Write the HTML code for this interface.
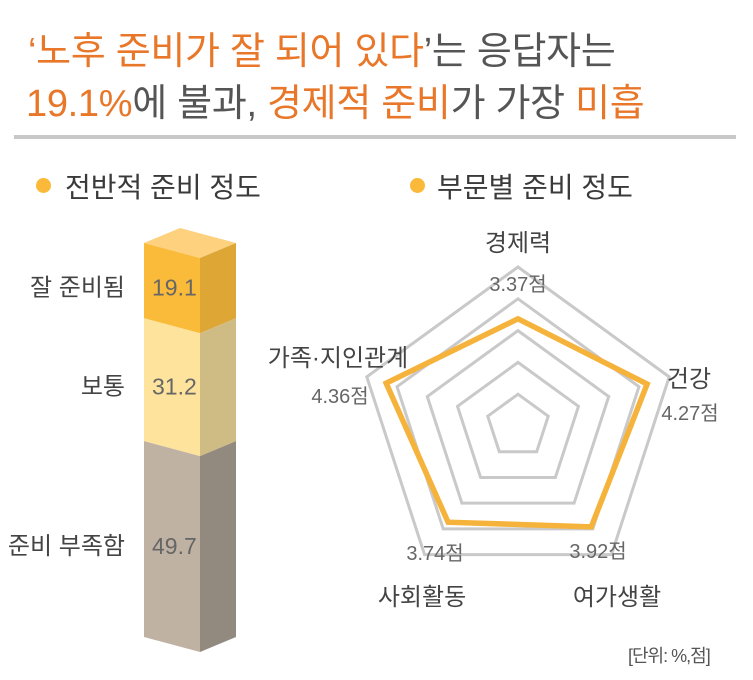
<!DOCTYPE html>
<html><head><meta charset="utf-8"><style>
body{margin:0;width:753px;height:680px;background:#fff;overflow:hidden;font-family:"Liberation Sans","Noto Sans CJK KR",sans-serif;color:#555}
.t{position:absolute;white-space:nowrap}
.o{color:#e8772a}
</style></head><body>
<div class="t" style="left:28px;top:20px;font-size:38px;letter-spacing:-0.3px"><span class="o">‘노후 준비가 잘 되어 있다</span>’는 응답자는</div>
<div class="t" style="left:26px;top:72px;font-size:38px;letter-spacing:-0.3px"><span class="o">19.1%</span>에 불과, <span class="o">경제적 준비</span>가 가장 <span class="o">미흡</span></div>
<div style="position:absolute;left:14px;top:135px;width:722px;height:4px;background:#c8c8c8"></div>
<div class="t" style="left:36px;top:166px;font-size:28px;color:#3a3a3a"><span style="display:inline-block;width:15px;height:15px;border-radius:50%;background:#fbb93a;margin-right:14px;vertical-align:4px"></span>전반적 준비 정도</div>
<div class="t" style="left:410px;top:166px;font-size:28px;color:#3a3a3a"><span style="display:inline-block;width:15px;height:15px;border-radius:50%;background:#fbb93a;margin-right:12px;vertical-align:4px"></span>부문별 준비 정도</div>
<svg id="c" width="753" height="680" style="position:absolute;left:0;top:0"></svg>
<div class="t" style="left:628px;top:642px;font-size:18px;color:#555;letter-spacing:-1px">[단위: %,점]</div>
<script>
const barCats=["잘 준비됨","보통","준비 부족함"];
const barVals=[19.1,31.2,49.7];
const radarCats=["경제력","건강","여가생활","사회활동","가족·지인관계"];
const radarVals=[3.37,4.27,3.92,3.74,4.36];
const radarLabels=["3.37점","4.27점","3.92점","3.74점","4.36점"];
const radarMax=5;
const NS="http://www.w3.org/2000/svg",svg=document.getElementById('c');
function mk(t,a,txt){const e=document.createElementNS(NS,t);for(const k in a)e.setAttribute(k,a[k]);if(txt!=null)e.textContent=txt;svg.appendChild(e);return e;}
// isometric bar
const fronts=["#fbbb3a","#fde39c","#bfb2a3"],sides=["#dea635","#cfbb84","#938a7f"];
const xl=144,xm=200,xr=236,y0=243,dyF=15,pxPer=3.94;
const barTop=mk('polygon',{points:`${xl},${y0} ${xm},${y0+dyF} ${xr},${y0} ${180},${228}`,fill:"#fdd17e"});


let y=y0;
barVals.forEach((v,i)=>{
  const h=v*pxPer;
  const f=mk('polygon',{points:`${xl},${y} ${xm},${y+dyF} ${xm},${y+dyF+h} ${xl},${y+h}`,fill:fronts[i]});
  
  
  const s=mk('polygon',{points:`${xm},${y+dyF} ${xr},${y} ${xr},${y+h} ${xm},${y+dyF+h}`,fill:sides[i]});
  
  const cy=y+h/2+7;
  const vt=mk('text',{x:152,y:cy+8,'font-size':23,fill:"#666"},v.toFixed(1));
  
  const ct=mk('text',{x:125,y:cy+8,'font-size':24,fill:"#444",'text-anchor':'end'},barCats[i]);
  
  y+=h;
});
// radar
const cx=518,cy=426,R=159;
const ang=i=>-Math.PI/2+i*2*Math.PI/5;
const pt=(i,r)=>`${cx+r*Math.cos(ang(i))},${cy+r*Math.sin(ang(i))}`;
[1,0.8,0.6,0.4,0.2].forEach(s=>{const r=mk('polygon',{points:[0,1,2,3,4].map(i=>pt(i,R*s)).join(' '),fill:'none',stroke:'#c9c9c9','stroke-width':3});});
const p=mk('polygon',{points:radarVals.map((v,i)=>pt(i,R*v/radarMax)).join(' '),fill:'none',stroke:'#f6b33c','stroke-width':5.5,'stroke-linejoin':'miter'});


const catPos=[[518,251],[689,387],[617,605],[422,605],[338,366]];
const valPos=[[518,291],[690,420],[598,558],[435,560],[340,403]];
radarCats.forEach((c,i)=>{
  const t=mk('text',{x:catPos[i][0],y:catPos[i][1],'font-size':24,fill:'#444','text-anchor':'middle'},c);
  
  const u=mk('text',{x:valPos[i][0],y:valPos[i][1],'font-size':20,fill:'#666','text-anchor':'middle'},radarLabels[i]);
  
});
</script>
</body></html>
